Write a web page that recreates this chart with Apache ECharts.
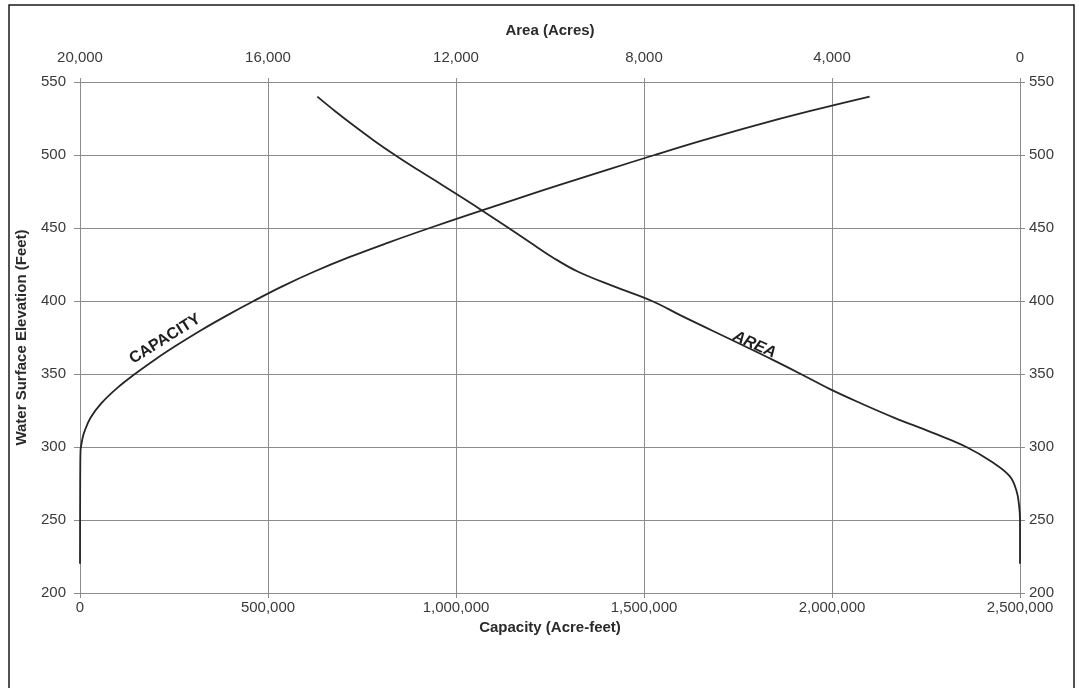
<!DOCTYPE html>
<html>
<head>
<meta charset="utf-8">
<script src="https://cdn.jsdelivr.net/npm/echarts@6/dist/echarts.min.js"></script>
<style>
html,body{margin:0;padding:0;background:#fff;}
#chart{width:1079px;height:688px;}
</style>
</head>
<body>
<div id="chart"></div>
<script>
// Elevations (feet) for capacity curve and capacity (acre-feet)
const capElev = [220, 260, 290, 298, 300, 305, 310, 320, 330, 340, 350, 360, 370, 380, 390, 400, 410, 420, 430, 440, 450, 460, 470, 480, 490, 500, 510, 520, 530, 540];
const capacity = [0, 300, 800, 1500, 2500, 6000, 11000, 28000, 57000, 97000, 146000, 200000, 259000, 322000, 390000, 462000, 538000, 622000, 716000, 820000, 930000, 1045000, 1162000, 1282000, 1404000, 1528000, 1656000, 1792000, 1940000, 2100000];

// Elevations (feet) for area curve and area (acres)
const areaElev = [220, 250, 260, 270, 280, 290, 300, 310, 320, 330, 340, 350, 360, 370, 380, 390, 400, 410, 420, 430, 440, 450, 460, 470, 480, 490, 500, 510, 520, 530, 540];
const area = [0, 0, 20, 75, 220, 610, 1140, 1880, 2670, 3390, 4065, 4665, 5280, 5920, 6565, 7210, 7830, 8640, 9400, 9950, 10420, 10880, 11350, 11830, 12320, 12820, 13300, 13750, 14170, 14570, 14950];

// Tick settings
const capTicks = {min: 0, max: 2500000, interval: 500000};
const areaTicks = {min: 0, max: 20000, interval: 4000};
const elevTicks = {min: 200, max: 550, interval: 50};

// Curve annotation positions (data coordinates)
const capLabel = {text: 'CAPACITY', at: [226000, 374]};
const areaLabel = {text: 'AREA', at: [5650, 370]};

const capData = capElev.map((e, i) => [capacity[i], e]);
const areaData = areaElev.map((e, i) => [area[i], e]);

const FONT = '"Liberation Sans", Arial, sans-serif';
const gridColor = '#8c8c8c';
const labelStyle = {color: '#3a3a3a', fontSize: 15, fontFamily: FONT};
const nameStyle = {color: '#2a2a2a', fontSize: 15, fontWeight: 'bold', fontFamily: FONT};
const fmt = v => v.toLocaleString('en-US');

const chart = echarts.init(document.getElementById('chart'), null, {renderer: 'canvas'});
chart.setOption({
  animation: false,
  backgroundColor: '#ffffff',
  grid: {left: 80, right: 59, top: 82, bottom: 95, containLabel: false},
  graphic: [{
    type: 'polyline',
    shape: {points: [[9, 688], [9, 5], [1074, 5], [1074, 688]]},
    style: {stroke: '#1a1a1a', lineWidth: 1.5, fill: null},
    silent: true
  }],
  xAxis: [{
    type: 'value', position: 'bottom',
    min: capTicks.min, max: capTicks.max, interval: capTicks.interval,
    name: 'Capacity (Acre-feet)', nameLocation: 'middle', nameGap: 27,
    nameTextStyle: nameStyle,
    axisLine: {show: true, lineStyle: {color: gridColor, width: 1}},
    axisTick: {show: true, inside: false, length: 5, lineStyle: {color: gridColor}},
    axisLabel: Object.assign({margin: 7, formatter: fmt}, labelStyle),
    splitLine: {show: true, lineStyle: {color: gridColor, width: 1}}
  }, {
    type: 'value', position: 'top', inverse: true,
    min: areaTicks.min, max: areaTicks.max, interval: areaTicks.interval,
    name: 'Area (Acres)', nameLocation: 'middle', nameGap: 44,
    nameTextStyle: nameStyle,
    axisLine: {show: true, lineStyle: {color: gridColor, width: 1}},
    axisTick: {show: true, inside: false, length: 4, lineStyle: {color: gridColor}},
    axisLabel: Object.assign({margin: 17, formatter: fmt}, labelStyle),
    splitLine: {show: false}
  }],
  yAxis: [{
    type: 'value', position: 'left',
    min: elevTicks.min, max: elevTicks.max, interval: elevTicks.interval,
    name: 'Water Surface Elevation (Feet)', nameLocation: 'middle', nameGap: 51,
    nameRotate: 90,
    nameTextStyle: nameStyle,
    axisLine: {show: true, lineStyle: {color: gridColor, width: 1}},
    axisTick: {show: true, inside: false, length: 6, lineStyle: {color: gridColor}},
    axisLabel: Object.assign({margin: 14}, labelStyle),
    splitLine: {show: true, lineStyle: {color: gridColor, width: 1}}
  }, {
    type: 'value', position: 'right',
    min: elevTicks.min, max: elevTicks.max, interval: elevTicks.interval,
    axisLine: {show: true, lineStyle: {color: gridColor, width: 1}},
    axisTick: {show: true, inside: false, length: 5, lineStyle: {color: gridColor}},
    axisLabel: Object.assign({margin: 9}, labelStyle),
    splitLine: {show: false}
  }],
  series: [{
    name: 'Capacity', type: 'line', xAxisIndex: 0, yAxisIndex: 0,
    data: capData, showSymbol: false, smooth: 0.4,
    lineStyle: {color: '#262626', width: 1.8},
    markPoint: {
      symbol: 'circle', symbolSize: 0,
      label: {show: true, position: 'inside', formatter: capLabel.text, rotate: 32,
        color: '#1e1e1e', fontSize: 16, fontWeight: 'bold',
        fontFamily: '"Liberation Sans Narrow", "Liberation Sans", sans-serif'},
      data: [{coord: capLabel.at}]
    }
  }, {
    name: 'Area', type: 'line', xAxisIndex: 1, yAxisIndex: 0,
    data: areaData, showSymbol: false, smooth: 0.4,
    lineStyle: {color: '#262626', width: 1.8},
    markPoint: {
      symbol: 'circle', symbolSize: 0,
      label: {show: true, position: 'inside', formatter: areaLabel.text, rotate: -24,
        color: '#1e1e1e', fontSize: 16, fontWeight: 'bold', fontStyle: 'italic',
        fontFamily: '"Liberation Sans Narrow", "Liberation Sans", sans-serif'},
      data: [{coord: areaLabel.at}]
    }
  }]
});
</script>
</body>
</html>
